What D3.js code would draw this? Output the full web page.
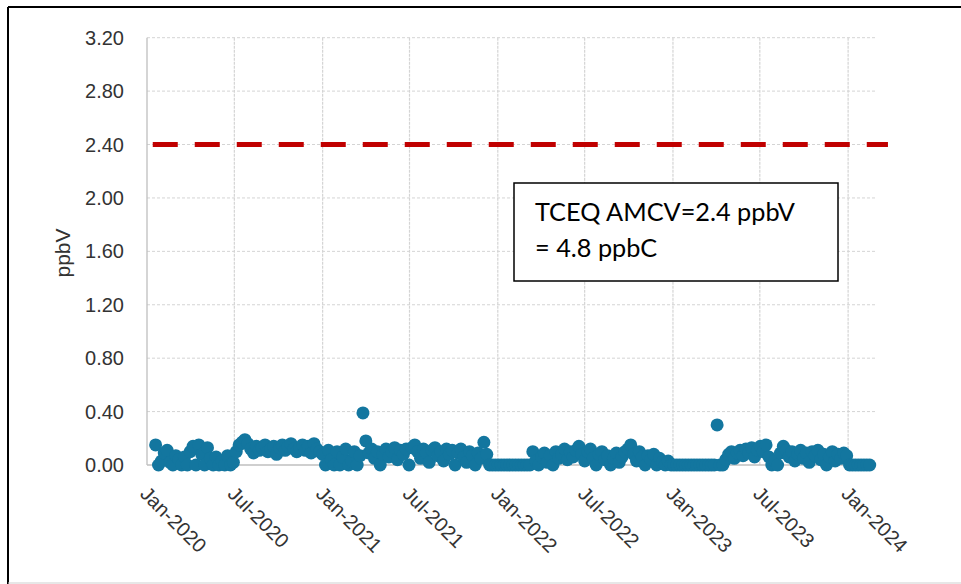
<!DOCTYPE html>
<html>
<head>
<meta charset="utf-8">
<script src="https://cdn.jsdelivr.net/npm/d3@7"></script>
<style>
  html, body { margin: 0; padding: 0; background: #fff; }
  svg { display: block; }
</style>
</head>
<body>
<svg id="chart" width="961" height="584"></svg>
<script>
// ---- data ----
const yTicks = [0, 0.4, 0.8, 1.2, 1.6, 2.0, 2.4, 2.8, 3.2];
const xTickDates = ["2020-01-01","2020-07-01","2021-01-01","2021-07-01","2022-01-01","2022-07-01","2023-01-01","2023-07-01","2024-01-01"];
const sampleStart = "2020-01-19";   // 1-in-6 day sampling schedule
const sampleStepDays = 6;
const values = [
  // Jan - Jun 2020
  0.15,0.00,0.03,0.09,0.11,0.02,0.00,0.07,0.04,0.00,
  0.06,0.00,0.10,0.14,0.00,0.15,0.08,0.00,0.13,0.05,
  0.00,0.06,0.00,0.03,0.00,0.07,0.00,0.02,
  // Jul - Dec 2020
  0.10,0.15,0.17,0.19,0.16,0.12,0.09,0.14,0.11,0.13,
  0.15,0.10,0.12,0.14,0.08,0.13,0.15,0.11,0.14,0.16,
  0.12,0.10,0.13,0.15,0.11,0.14,0.09,0.16,0.12,0.10,
  // Jan - Mar 2021
  0.08,0.00,0.11,0.04,0.00,0.10,0.00,0.06,0.12,0.00,
  0.03,0.10,0.00,0.07,0.39,0.18,
  // Apr - Dec 2021
  0.09,0.12,0.05,0.10,0.00,0.08,0.12,0.06,0.10,0.13,
  0.04,0.11,0.08,0.12,0.00,0.13,0.15,0.10,0.05,0.12,
  0.09,0.02,0.11,0.13,0.07,0.10,0.03,0.12,0.08,0.11,
  0.00,0.09,0.12,0.06,0.02,0.10,0.07,0.00,0.09,0.05,
  0.17,0.08,0.00,0.00,
  // Jan - Apr 2022
  0.00,0.00,0.00,0.00,0.00,0.00,0.00,0.00,0.00,0.00,
  0.00,0.00,0.00,
  // Apr - Dec 2022
  0.10,0.03,0.00,0.06,0.09,0.02,0.07,0.00,0.10,0.05,
  0.08,0.12,0.04,0.10,0.06,0.11,0.14,0.08,0.03,0.10,
  0.12,0.05,0.00,0.08,0.10,0.04,0.07,0.00,0.05,0.09,
  0.02,0.06,0.10,0.12,0.15,0.08,0.03,0.10,
  0.06,0.00,0.07,0.04,0.08,0.00,0.05,0.02,0.00,0.03,
  // Jan - Apr 2023
  0.00,0.00,0.00,0.00,0.00,0.00,0.00,0.00,0.00,0.00,
  0.00,0.00,0.00,0.00,0.00,0.00,0.30,0.00,0.00,0.04,
  // May 2023 - Feb 2024
  0.08,0.10,0.05,0.09,0.11,0.07,0.12,0.09,0.13,0.06,
  0.11,0.14,0.10,0.15,0.06,0.00,0.03,0.00,0.09,0.14,
  0.11,0.06,0.10,0.03,0.08,0.11,0.05,0.09,0.02,0.10,
  0.07,0.11,0.04,0.08,0.00,0.06,0.10,0.03,0.08,0.05,
  0.09,0.07,0.00,0.00,0.00,0.00,0.00,0.00,0.00,0.00
];
const amcvValue = 2.4;
const amcvDates = ["2020-01-13", "2024-03-24"];
const noteLines = ["TCEQ AMCV=2.4 ppbV", "= 4.8 ppbC"];
const yTitle = "ppbV";

// ---- chart ----
const parse = d3.timeParse("%Y-%m-%d");
const svg = d3.select("#chart");
const W = 961, H = 584;

const x = d3.scaleTime()
  .domain([parse("2020-01-01"), parse("2024-02-26")])
  .range([147, 875]);
const y = d3.scaleLinear().domain([0, 3.2]).range([465, 37.7]);

const start = parse(sampleStart);
const points = values.map((v, i) => ({ date: d3.timeDay.offset(start, i * sampleStepDays), v }));

// outer frame
svg.append("rect").attr("x", 0).attr("y", 0).attr("width", W).attr("height", H).attr("fill", "#fff");
svg.append("line").attr("x1", 8).attr("x2", W).attr("y1", 7).attr("y2", 7)
  .attr("stroke", "#000").attr("stroke-width", 2);
svg.append("line").attr("x1", 8).attr("x2", 8).attr("y1", 7).attr("y2", H)
  .attr("stroke", "#000").attr("stroke-width", 2);
svg.append("line").attr("x1", 8).attr("x2", W).attr("y1", 583).attr("y2", 583)
  .attr("stroke", "#cfcfcf").attr("stroke-width", 1);

// horizontal gridlines
svg.append("g").selectAll("line").data(yTicks.filter(d => d > 0)).join("line")
  .attr("x1", 147).attr("x2", 875)
  .attr("y1", d => y(d)).attr("y2", d => y(d))
  .attr("stroke", "#d4d4d4").attr("stroke-width", 1).attr("stroke-dasharray", "3,2");

// vertical gridlines
const xt = xTickDates.map(parse);
svg.append("g").selectAll("line").data(xt.slice(1)).join("line")
  .attr("x1", d => x(d)).attr("x2", d => x(d))
  .attr("y1", y(3.2)).attr("y2", y(0))
  .attr("stroke", "#d4d4d4").attr("stroke-width", 1.2).attr("stroke-dasharray", "3,1");

// axis lines
svg.append("line").attr("x1", 147).attr("x2", 147).attr("y1", y(3.2)).attr("y2", y(0))
  .attr("stroke", "#bfbfbf").attr("stroke-width", 1.3);
svg.append("line").attr("x1", 147).attr("x2", 875).attr("y1", y(0)).attr("y2", y(0))
  .attr("stroke", "#bfbfbf").attr("stroke-width", 1.3);

// y tick labels
svg.append("g").selectAll("text").data(yTicks).join("text")
  .attr("x", 124).attr("y", d => y(d)).attr("dy", "0.35em")
  .attr("text-anchor", "end")
  .attr("font-family", "Liberation Sans, Arial, sans-serif").attr("font-size", 20)
  .attr("fill", "#333")
  .text(d => d3.format(".2f")(d));

// x tick labels (rotated 45deg)
const fmt = d3.timeFormat("%b-%Y");
svg.append("g").selectAll("text").data(xt).join("text")
  .attr("transform", d => `translate(${x(d) - 3},${490}) rotate(45)`)
  .attr("dy", "0.35em")
  .attr("text-anchor", "start")
  .attr("font-family", "Liberation Sans, Arial, sans-serif").attr("font-size", 20)
  .attr("fill", "#333")
  .text(d => fmt(d));

// y title
svg.append("text")
  .attr("transform", "translate(63,253) rotate(-90)")
  .attr("dy", "0.35em")
  .attr("text-anchor", "middle")
  .attr("font-family", "Liberation Sans, Arial, sans-serif").attr("font-size", 21)
  .attr("fill", "#333")
  .text(yTitle);

// data points
svg.append("g").selectAll("circle").data(points).join("circle")
  .attr("cx", d => x(d.date)).attr("cy", d => y(d.v)).attr("r", 6.5)
  .attr("fill", "#13769f");

// AMCV dashed line
const line = d3.line().x(d => x(d.date)).y(d => y(d.v));
svg.append("path")
  .datum(amcvDates.map(s => ({ date: parse(s), v: amcvValue })))
  .attr("d", line)
  .attr("fill", "none").attr("stroke", "#c00000").attr("stroke-width", 5)
  .attr("stroke-dasharray", "25,17");

// note box
svg.append("rect").attr("x", 514).attr("y", 183).attr("width", 324).attr("height", 98)
  .attr("fill", "#fff").attr("stroke", "#000").attr("stroke-width", 1.5);
const note = svg.append("g").selectAll("text").data(noteLines).join("text")
  .attr("x", 535).attr("y", (d, i) => 221 + i * 36)
  .attr("font-family", "Lato, 'Open Sans', sans-serif").attr("font-size", 24)
  .attr("fill", "#000")
  .text(d => d);
// fit first line to reference width
const w0 = note.nodes()[0].getComputedTextLength();
if (w0 > 0) note.attr("font-size", 24 * 260 / w0);
</script>
</body>
</html>
